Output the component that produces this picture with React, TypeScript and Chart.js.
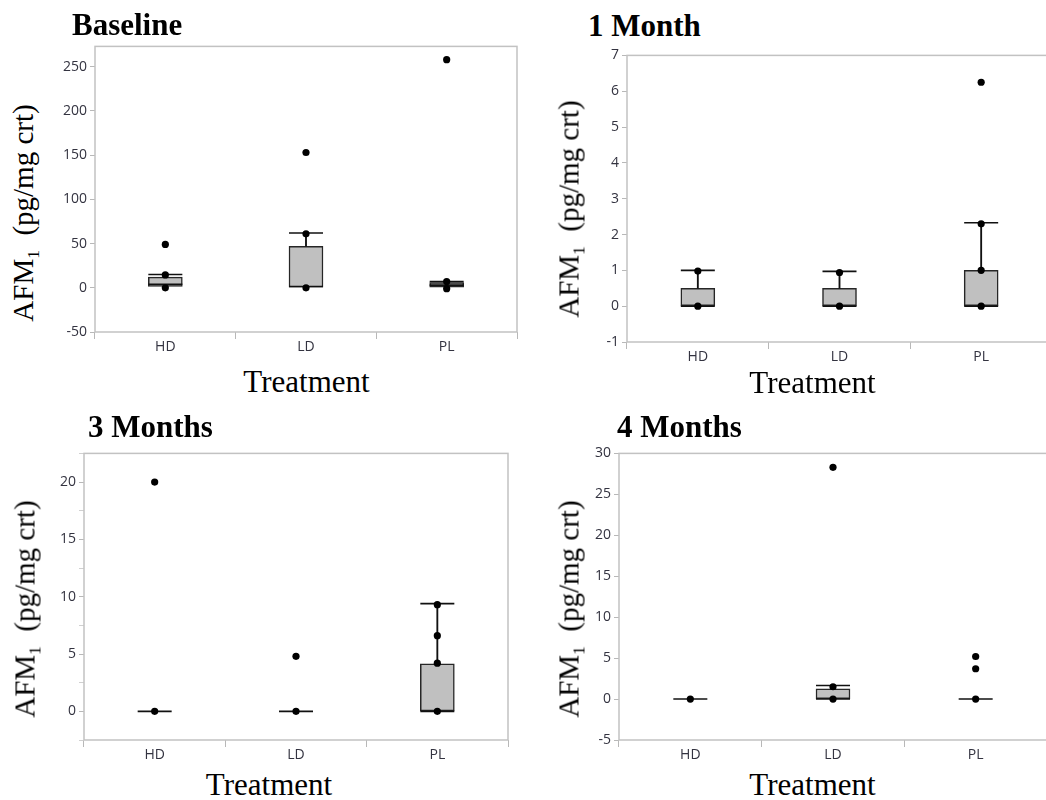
import React, { useEffect, useRef } from "react";
import { Chart, registerables } from "chart.js";

Chart.register(...registerables);

// ---------- data ----------
const treatments = ["HD", "LD", "PL"];

// Baseline
const baselineQ1 = [1.5, 0, 0];
const baselineMedian = [4, 1.5, 3];
const baselineQ3 = [12, 47, 6];
const baselineUpperWhisker = [15, 62, 7];
const baselinePoints = [[49, 14.5, 0], [153, 61, 0], [258, 7, -1]];
const baselineYRange = [-50, 273];
const baselineYTicks = [-50, 0, 50, 100, 150, 200, 250];

// 1 Month
const month1Q1 = [0, 0, 0];
const month1Median = [0, 0, 0];
const month1Q3 = [0.5, 0.5, 1];
const month1UpperWhisker = [1, 0.97, 2.33];
const month1Points = [[0.98, 0], [0.94, 0], [6.25, 2.3, 1, 0]];
const month1YRange = [-1, 7];
const month1YTicks = [-1, 0, 1, 2, 3, 4, 5, 6, 7];

// 3 Months
const month3Q1 = [0, 0, 0];
const month3Median = [0, 0, 0];
const month3Q3 = [0, 0, 4.15];
const month3UpperWhisker = [0, 0, 9.4];
const month3Points = [[20, 0], [4.8, 0], [9.3, 6.6, 4.2, 0]];
const month3YRange = [-2.5, 22.5];
const month3YTicks = [0, 5, 10, 15, 20];
const month3MinorTicks = [-2.5, 2.5, 7.5, 12.5, 17.5, 22.5];

// 4 Months
const month4Q1 = [0, 0, 0];
const month4Median = [0, 0, 0];
const month4Q3 = [0, 1.25, 0];
const month4UpperWhisker = [0, 1.65, 0];
const month4Points = [[0], [28.3, 1.5, 0], [5.2, 3.7, 0]];
const month4YRange = [-5, 30];
const month4YTicks = [-5, 0, 5, 10, 15, 20, 25, 30];

const panelTitles = ["Baseline", "1 Month", "3 Months", "4 Months"];
const xAxisTitle = "Treatment";

const panels: any[] = [
  { title: panelTitles[0], q1: baselineQ1, median: baselineMedian, q3: baselineQ3, upper: baselineUpperWhisker, points: baselinePoints, range: baselineYRange, ticks: baselineYTicks, minor: [] },
  { title: panelTitles[1], q1: month1Q1, median: month1Median, q3: month1Q3, upper: month1UpperWhisker, points: month1Points, range: month1YRange, ticks: month1YTicks, minor: [] },
  { title: panelTitles[2], q1: month3Q1, median: month3Median, q3: month3Q3, upper: month3UpperWhisker, points: month3Points, range: month3YRange, ticks: month3YTicks, minor: month3MinorTicks },
  { title: panelTitles[3], q1: month4Q1, median: month4Median, q3: month4Q3, upper: month4UpperWhisker, points: month4Points, range: month4YRange, ticks: month4YTicks, minor: [] },
];

// ---------- layout / style ----------
const Y_AXIS_W = 45;
const X_AXIS_H = 24;
const PAD_TOP = 8;
const PAD_RIGHT = 6;

const layouts = [
  { canvas: { left: 50, top: 35, width: 473, height: 321 }, title: { left: 72, top: 9 }, yTitle: { cx: 23, cy: 212.5 }, xTitle: { cx: 306.5, top: 366 } },
  { canvas: { left: 582, top: 44, width: 476, height: 322 }, title: { left: 588, top: 10 }, yTitle: { cx: 568.5, cy: 209 }, xTitle: { cx: 812.5, top: 367 } },
  { canvas: { left: 39, top: 442, width: 475, height: 322 }, title: { left: 88, top: 411 }, yTitle: { cx: 25, cy: 609 }, xTitle: { cx: 269, top: 769 } },
  { canvas: { left: 574, top: 442, width: 479, height: 322 }, title: { left: 617, top: 411 }, yTitle: { cx: 569, cy: 608.5 }, xTitle: { cx: 812.5, top: 769 } },
];

const SERIF = "'Liberation Serif', 'Times New Roman', Times, serif";
const TICK_FONT = { family: "'Open Sans', 'Noto Sans', sans-serif", size: 14 };
const TICK_COLOR = "#333340";
const AXIS_GRAY = "#b8b8b8";

const framePlugin = {
  id: "frame",
  beforeDatasetsDraw(chart: any) {
    const { ctx, chartArea } = chart;
    const { left, top, right, bottom } = chartArea;
    ctx.save();
    ctx.strokeStyle = "#c2c2c2";
    ctx.lineWidth = 1.5;
    ctx.strokeRect(left, top, right - left, bottom - top);
    ctx.restore();
  },
};

function BoxPanel({ spec, layout }: { spec: any; layout: any }) {
  const ref = useRef<HTMLCanvasElement>(null);

  useEffect(() => {
    if (!ref.current) return;
    const hasWhisker = (i: number) => spec.upper[i] > spec.q3[i];
    const boxData = treatments.map((_, i) => (spec.q1[i] === spec.q3[i] ? null : [spec.q1[i], spec.q3[i]]));
    const whiskerData = treatments.map((_, i) => (hasWhisker(i) ? [spec.q3[i], spec.upper[i]] : null));
    const capData = treatments.map((_, i) => (hasWhisker(i) ? spec.upper[i] : null));
    const pointData = spec.points.flatMap((vals: number[], i: number) => vals.map((v) => ({ x: treatments[i], y: v })));
    const allTicks = [...spec.ticks, ...spec.minor].sort((a, b) => a - b);

    const chart = new Chart(ref.current, {
      type: "bar",
      data: {
        labels: treatments,
        datasets: [
          {
            type: "bar",
            data: boxData as any,
            backgroundColor: "#c0c0c0",
            borderColor: "#262626",
            borderWidth: 1.5,
            borderSkipped: false,
            barThickness: 34,
            grouped: false,
            order: 4,
          } as any,
          {
            type: "bar",
            data: whiskerData as any,
            backgroundColor: "#111111",
            borderWidth: 0,
            barThickness: 1.2,
            grouped: false,
            order: 3,
          } as any,
          {
            type: "line",
            data: capData as any,
            showLine: false,
            pointStyle: "line",
            pointRadius: 17,
            pointHoverRadius: 17,
            pointBorderWidth: 1.6,
            pointBorderColor: "#111111",
            order: 2,
          } as any,
          {
            type: "line",
            data: spec.median,
            showLine: false,
            pointStyle: "line",
            pointRadius: 17,
            pointHoverRadius: 17,
            pointBorderWidth: 1.6,
            pointBorderColor: "#111111",
            order: 2,
          } as any,
          {
            type: "line",
            data: pointData as any,
            showLine: false,
            pointStyle: "circle",
            pointRadius: 3.6,
            pointHoverRadius: 3.6,
            pointBackgroundColor: "#000000",
            pointBorderWidth: 0,
            order: 1,
          } as any,
        ],
      },
      options: {
        animation: false,
        responsive: false,
        maintainAspectRatio: false,
        layout: { autoPadding: false, padding: { top: PAD_TOP, right: PAD_RIGHT, left: 0, bottom: 0 } },
        plugins: {
          legend: { display: false },
          tooltip: { enabled: false },
          title: { display: false },
        },
        scales: {
          x: {
            type: "category",
            offset: true,
            afterFit: (scale: any) => {
              scale.height = X_AXIS_H;
            },
            ticks: { font: TICK_FONT, color: TICK_COLOR, padding: 0, maxRotation: 0, autoSkip: false },
            grid: { offset: true, drawOnChartArea: false, drawTicks: true, tickLength: 7, tickColor: AXIS_GRAY },
            border: { display: false },
          },
          y: {
            type: "linear",
            min: spec.range[0],
            max: spec.range[1],
            afterBuildTicks: (scale: any) => {
              scale.ticks = allTicks.map((v) => ({ value: v }));
            },
            afterFit: (scale: any) => {
              scale.width = Y_AXIS_W;
            },
            ticks: {
              font: TICK_FONT,
              color: TICK_COLOR,
              padding: 3,
              autoSkip: false,
              callback: (v: any) => (spec.ticks.includes(Number(v)) ? String(v) : ""),
            },
            grid: {
              drawOnChartArea: false,
              drawTicks: true,
              tickLength: 5,
              tickColor: (ctx: any) =>
                ctx.tick && spec.minor.includes(ctx.tick.value) ? "#d0d0d0" : AXIS_GRAY,
            },
            border: { display: false },
          },
        },
      } as any,
      plugins: [framePlugin],
    });
    return () => chart.destroy();
  }, []);

  return (
    <>
      <canvas
        ref={ref}
        width={layout.canvas.width}
        height={layout.canvas.height}
        style={{
          position: "absolute",
          left: layout.canvas.left,
          top: layout.canvas.top,
          width: layout.canvas.width,
          height: layout.canvas.height,
        }}
      />
      <div
        style={{
          position: "absolute",
          left: layout.title.left,
          top: layout.title.top,
          fontFamily: SERIF,
          fontWeight: "bold",
          fontSize: 31,
          lineHeight: 1,
          whiteSpace: "nowrap",
          color: "#000",
        }}
      >
        {spec.title}
      </div>
      <div
        style={{
          position: "absolute",
          left: layout.yTitle.cx,
          top: layout.yTitle.cy,
          transform: "translate(-50%, -50%) rotate(-90deg)",
          fontFamily: SERIF,
          fontSize: 29,
          lineHeight: 1,
          whiteSpace: "nowrap",
          color: "#000",
        }}
      >
        AFM
        <span style={{ fontSize: "0.6em", verticalAlign: "-0.35em", lineHeight: 0 }}>1</span>
        {"\u00a0\u00a0(pg/mg crt)"}
      </div>
      <div
        style={{
          position: "absolute",
          left: layout.xTitle.cx,
          top: layout.xTitle.top,
          transform: "translateX(-50%)",
          fontFamily: SERIF,
          fontSize: 31,
          lineHeight: 1,
          whiteSpace: "nowrap",
          color: "#000",
        }}
      >
        {xAxisTitle}
      </div>
    </>
  );
}

export default function App() {
  return (
    <div
      style={{
        position: "fixed",
        left: 0,
        top: 0,
        width: 1046,
        height: 800,
        overflow: "hidden",
        background: "#ffffff",
      }}
    >
      {panels.map((p, i) => (
        <BoxPanel key={i} spec={p} layout={layouts[i]} />
      ))}
    </div>
  );
}
